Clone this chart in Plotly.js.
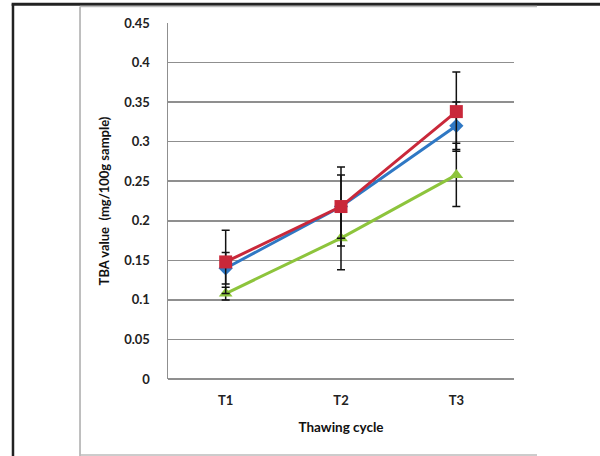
<!DOCTYPE html>
<html>
<head>
<meta charset="utf-8">
<script src="https://cdn.plot.ly/plotly-3.0.1.min.js"></script>
<style>html,body{margin:0;padding:0;background:#fff;}#chart{width:600px;height:456px;}</style>
</head>
<body>
<div id="chart"></div>
<script>
// Data
const cycles = ["T1", "T2", "T3"];
const redValues = [0.148, 0.218, 0.338];
const redErrors = [0.04, 0.05, 0.05];
const blueValues = [0.140, 0.218, 0.320];
const blueErrors = [0.02, 0.04, 0.03];
const greenValues = [0.108, 0.178, 0.258];
const greenErrors = [0.008, 0.04, 0.04];
const yTickValues = [0, 0.05, 0.1, 0.15, 0.2, 0.25, 0.3, 0.35, 0.4, 0.45];
const yTickLabels = ["0", "0.05", "0.1", "0.15", "0.2", "0.25", "0.3", "0.35", "0.4", "0.45"];

function series(y, err, color, symbol, size) {
  return {
    x: cycles, y: y, type: "scatter", mode: "lines+markers",
    line: {color: color, width: 3},
    marker: {color: color, symbol: symbol, size: size},
    error_y: {type: "data", array: err, visible: true, color: "#111", thickness: 1.5, width: 4},
    showlegend: false, cliponaxis: false
  };
}

const data = [
  series(greenValues, greenErrors, "#8dc43c", "triangle-up", 12),
  series(blueValues, blueErrors, "#2f78c4", "diamond", 11),
  series(redValues, redErrors, "#c9283a", "square", 13)
];

const fontFam = "Lato, 'Liberation Sans', sans-serif";
const layout = {
  width: 600, height: 456,
  margin: {l: 168, r: 86, t: 23, b: 77},
  paper_bgcolor: "#fff", plot_bgcolor: "#fff",
  font: {family: fontFam, color: "#222", size: 13, weight: "bold"},
  xaxis: {
    type: "category", range: [-0.5, 2.5],
    showgrid: false, zeroline: false, showline: false, ticks: "",
    tickfont: {family: fontFam, size: 13, weight: "bold", color: "#222"},
    ticklabelstandoff: 12,
    title: {text: "Thawing cycle", font: {family: fontFam, size: 13.5, weight: "bold", color: "#111"}, standoff: 15},
    automargin: false
  },
  yaxis: {
    range: [0, 0.45], tickvals: yTickValues, ticktext: yTickLabels,
    showgrid: true, gridcolor: "#8f8f8f", gridwidth: 1.5,
    zeroline: true, zerolinecolor: "#8f8f8f", zerolinewidth: 1.5,
    showline: true, linecolor: "#8f8f8f", linewidth: 1.5, ticks: "",
    ticklabelstandoff: 14,
    tickfont: {family: fontFam, size: 13, weight: "bold", color: "#222"},
    title: {text: "TBA value  (mg/100g sample)", font: {family: fontFam, size: 13, weight: "bold", color: "#111"}, standoff: 11},
    automargin: false
  },
  shapes: [
    {type: "line", xref: "paper", yref: "paper", x0: -0.448, x1: -0.448, y0: 1.053, y1: -0.22, line: {color: "#222", width: 2.5}},
    {type: "line", xref: "paper", yref: "paper", x0: -0.452, x1: 1.26, y0: 1.053, y1: 1.053, line: {color: "#222", width: 3}},
    {type: "line", xref: "paper", yref: "paper", x0: -0.2543, x1: -0.2543, y0: 1.046, y1: -0.22, line: {color: "#aaa", width: 1.5}},
    {type: "line", xref: "paper", yref: "paper", x0: -0.2543, x1: 1.0665, y0: 1.046, y1: 1.046, line: {color: "#bbb", width: 1.5}},
    {type: "line", xref: "paper", yref: "paper", x0: -0.2543, x1: 1.0665, y0: -0.2135, y1: -0.2135, line: {color: "#bbb", width: 1.5}}
  ]
};

Plotly.newPlot("chart", data, layout, {staticPlot: true, displayModeBar: false});
</script>
</body>
</html>
